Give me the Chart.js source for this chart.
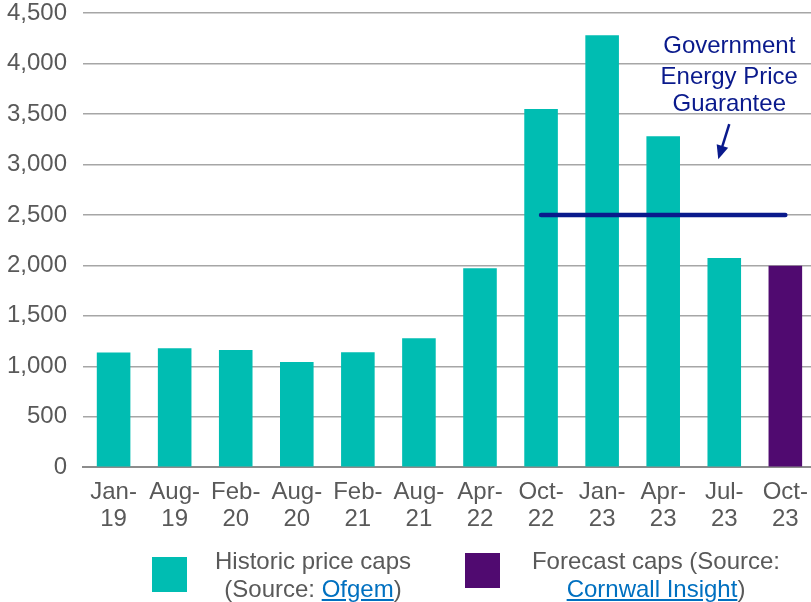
<!DOCTYPE html>
<html>
<head>
<meta charset="utf-8">
<script src="https://cdn.jsdelivr.net/npm/chart.js@4.4.0/dist/chart.umd.min.js"></script>
<style>
  html, body { margin: 0; padding: 0; background: #fff; overflow: hidden; }
  #wrap { position: relative; width: 811px; height: 602px; overflow: hidden; }
  #chart { position: absolute; left: -9px; top: -9px; }
  .legend-box { position: absolute; width: 35px; height: 35px; }
  .legend-text {
    position: absolute; font-family: "Liberation Sans", Arial, sans-serif;
    font-size: 24px; line-height: 28px; color: #595959; text-align: center; white-space: nowrap;
  }
  .legend-text a { color: #0070C0; text-decoration: underline; }
</style>
</head>
<body>
<div id="wrap">
  <canvas id="chart" width="829" height="611"></canvas>
  <div class="legend-box" style="left:152px; top:557px; background:#00BDB2;"></div>
  <div class="legend-text" style="left:203px; top:547px; width:220px;">Historic price caps<br>(Source: <a href="#">Ofgem</a>)</div>
  <div class="legend-box" style="left:465px; top:553px; background:#500A70;"></div>
  <div class="legend-text" style="left:516px; top:547px; width:280px;">Forecast caps (Source:<br><a href="#">Cornwall Insight</a>)</div>
</div>
<script>
// Typical annual dual-fuel bill under the price cap (£)
const periods = ['Jan-19', 'Aug-19', 'Feb-20', 'Aug-20', 'Feb-21', 'Aug-21',
                 'Apr-22', 'Oct-22', 'Jan-23', 'Apr-23', 'Jul-23', 'Oct-23'];
const historicCaps = [1137, 1179, 1162, 1042, 1138, 1277, 1971, 3549, 4279, 3280, 2074, null];
const forecastCaps = [null, null, null, null, null, null, null, null, null, null, null, 1996];
const guaranteeCap = [null, null, null, null, null, null, null, 2500, 2500, 2500, 2500, 2500];
const yTicks = [0, 500, 1000, 1500, 2000, 2500, 3000, 3500, 4000, 4500];
const noteLines = ['Government', 'Energy Price', 'Guarantee'];

const TEAL = '#00BDB2';
const PURPLE = '#500A70';
const NAVY = '#0A1A8C';
const FONT = '"Liberation Sans", Arial, sans-serif';

// Two-line category labels: "Jan-" / "19"
const xLabels = periods.map(p => {
    const parts = p.split('-');
    return [parts[0] + '-', parts[1]];
});

// Annotation text + arrow pointing down at the guarantee line
const guaranteeNote = {
    id: 'guaranteeNote',
    afterDatasetsDraw(chart) {
        const ctx = chart.ctx;
        const x = chart.scales.x;
        const y = chart.scales.y;
        const cx = x.getPixelForValue(10) + 5;
        ctx.save();
        ctx.fillStyle = NAVY;
        ctx.font = '24px ' + FONT;
        ctx.textAlign = 'center';
        ctx.textBaseline = 'middle';
        const lineVals = [4165, 3865, 3590];
        noteLines.forEach((t, i) => ctx.fillText(t, cx, y.getPixelForValue(lineVals[i])));

        // arrow
        const x0 = cx, y0 = y.getPixelForValue(3400);
        const x1 = cx - 11, y1 = y.getPixelForValue(3050);
        const ang = Math.atan2(y1 - y0, x1 - x0);
        ctx.strokeStyle = NAVY;
        ctx.lineWidth = 2.5;
        ctx.beginPath();
        ctx.moveTo(x0, y0);
        ctx.lineTo(x1 - 8 * Math.cos(ang), y1 - 8 * Math.sin(ang));
        ctx.stroke();
        ctx.beginPath();
        ctx.moveTo(x1, y1);
        ctx.lineTo(x1 - 14 * Math.cos(ang) + 6 * Math.sin(ang), y1 - 14 * Math.sin(ang) - 6 * Math.cos(ang));
        ctx.lineTo(x1 - 14 * Math.cos(ang) - 6 * Math.sin(ang), y1 - 14 * Math.sin(ang) + 6 * Math.cos(ang));
        ctx.closePath();
        ctx.fill();
        ctx.restore();
    }
};

new Chart(document.getElementById('chart'), {
    data: {
        labels: xLabels,
        datasets: [
            {
                type: 'line',
                label: 'Government Energy Price Guarantee',
                data: guaranteeCap,
                borderColor: NAVY,
                borderWidth: 4.5,
                borderCapStyle: 'round',
                pointRadius: 0,
                order: 0
            },
            {
                type: 'bar',
                label: 'Historic price caps',
                data: historicCaps,
                backgroundColor: TEAL,
                grouped: false,
                categoryPercentage: 1,
                barPercentage: 0.55,
                order: 1
            },
            {
                type: 'bar',
                label: 'Forecast caps',
                data: forecastCaps,
                backgroundColor: PURPLE,
                grouped: false,
                categoryPercentage: 1,
                barPercentage: 0.55,
                order: 1
            }
        ]
    },
    options: {
        responsive: false,
        animation: false,
        layout: { padding: { top: 0, right: 0, bottom: 57, left: 0 } },
        plugins: {
            legend: { display: false },
            tooltip: { enabled: false }
        },
        scales: {
            x: {
                type: 'category',
                offset: true,
                grid: { display: false, drawTicks: false },
                border: { color: '#8C8C8C', width: 2 },
                ticks: {
                    color: '#595959',
                    font: { family: FONT, size: 24, lineHeight: 1.12 },
                    padding: 12,
                    maxRotation: 0,
                    autoSkip: false
                }
            },
            y: {
                min: 0,
                max: 4500,
                afterBuildTicks(axis) { axis.ticks = yTicks.map(v => ({ value: v })); },
                grid: { color: '#A6A6A6', lineWidth: 1.5, drawTicks: false },
                border: { display: false },
                ticks: {
                    color: '#595959',
                    font: { family: FONT, size: 24, lineHeight: 0.5 },
                    padding: 16,
                    callback: v => v.toLocaleString('en-GB')
                }
            }
        }
    },
    plugins: [guaranteeNote]
});
</script>
</body>
</html>
